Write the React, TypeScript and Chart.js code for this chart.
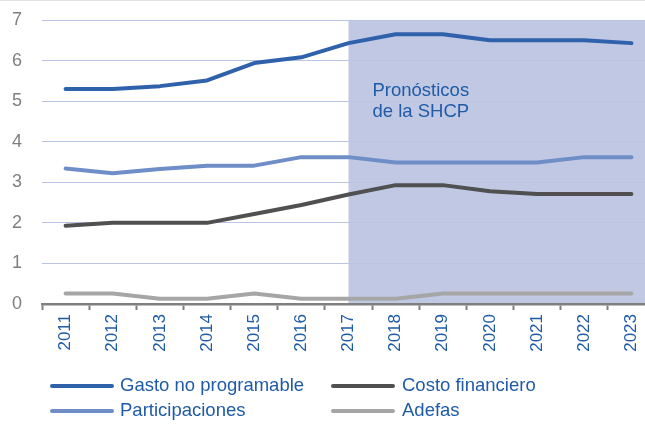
import React, { useEffect, useRef } from "react";
import { Chart, registerables } from "chart.js";

Chart.register(...registerables);

const years = ["2011", "2012", "2013", "2014", "2015", "2016", "2017", "2018", "2019", "2020", "2021", "2022", "2023"];
const gastoNoProgramable = [5.3, 5.3, 5.37, 5.51, 5.94, 6.08, 6.43, 6.65, 6.65, 6.5, 6.5, 6.5, 6.43];
const participaciones = [3.34, 3.22, 3.33, 3.41, 3.41, 3.62, 3.62, 3.49, 3.49, 3.49, 3.49, 3.62, 3.62];
const costoFinanciero = [1.93, 2.0, 2.0, 2.0, 2.22, 2.44, 2.7, 2.93, 2.93, 2.78, 2.71, 2.71, 2.71];
const adefas = [0.26, 0.26, 0.13, 0.13, 0.26, 0.13, 0.13, 0.13, 0.26, 0.26, 0.26, 0.26, 0.26];
const yMin = 0;
const yMax = 7;
const forecastStart = "2017";
const annotationLines = ["Pronósticos", "de la SHCP"];

const seriesNames = ["Gasto no programable", "Participaciones", "Costo financiero", "Adefas"];
const seriesColors = ["#2F62AB", "#6F8DC6", "#505050", "#A6A6A6"];

const blueText = "#1F5BA6";
const font = "Arial, 'Liberation Sans', sans-serif";

export default function App() {
  const ref = useRef<HTMLCanvasElement | null>(null);

  useEffect(() => {
    if (!ref.current) return;
    const overlay = {
      id: "overlay",
      beforeDraw(chart: any) {
        const { ctx, chartArea } = chart;
        const xs = chart.scales.x;
        const x0 = xs.getPixelForValue(years.indexOf(forecastStart));
        ctx.save();
        ctx.fillStyle = "#C0C8E3";
        ctx.fillRect(x0, chartArea.top, chartArea.right - x0, chartArea.bottom - chartArea.top);
        ctx.restore();
      },
      afterDatasetsDraw(chart: any) {
        const { ctx } = chart;
        const xs = chart.scales.x;
        const ys = chart.scales.y;
        const x0 = xs.getPixelForValue(years.indexOf(forecastStart));
        ctx.save();
        ctx.fillStyle = blueText;
        ctx.font = `18.5px ${font}`;
        ctx.textAlign = "left";
        ctx.textBaseline = "middle";
        const yTop = ys.getPixelForValue(5.3) + 2;
        annotationLines.forEach((t, i) => ctx.fillText(t, x0 + 24, yTop + i * 21));
        ctx.restore();
      },
      afterDraw(chart: any) {
        const { ctx } = chart;
        ctx.save();
        ctx.fillStyle = "#E2E2E2";
        ctx.fillRect(0, 0, chart.width, 1);
        const pos = [
          { sx: 52, tx: 120, y: 386 },
          { sx: 52, tx: 120, y: 411 },
          { sx: 333, tx: 402, y: 386 },
          { sx: 333, tx: 402, y: 411 },
        ];
        ctx.font = `18.5px ${font}`;
        ctx.textBaseline = "middle";
        ctx.textAlign = "left";
        seriesNames.forEach((name, i) => {
          const p = pos[i];
          ctx.strokeStyle = seriesColors[i];
          ctx.lineWidth = 4;
          ctx.lineCap = "round";
          ctx.beginPath();
          ctx.moveTo(p.sx, p.y);
          ctx.lineTo(p.sx + 60, p.y);
          ctx.stroke();
          ctx.fillStyle = blueText;
          ctx.fillText(name, p.tx, p.y);
        });
        ctx.restore();
      },
    };

    const seriesData = [gastoNoProgramable, participaciones, costoFinanciero, adefas];
    const chart = new Chart(ref.current, {
      type: "line",
      data: {
        labels: years,
        datasets: seriesNames.map((name, i) => ({
          label: name,
          data: seriesData[i],
          borderColor: seriesColors[i],
          backgroundColor: seriesColors[i],
          borderWidth: 4,
          pointRadius: 0,
          tension: 0,
          borderCapStyle: "round" as const,
          borderJoinStyle: "round" as const,
        })),
      },
      options: {
        responsive: false,
        animation: false,
        devicePixelRatio: 1,
        layout: { padding: { top: 20, right: 1, left: 0, bottom: 0 } },
        plugins: { legend: { display: false }, tooltip: { enabled: false } },
        scales: {
          x: {
            type: "category",
            offset: true,
            grid: {
              offset: true,
              drawOnChartArea: false,
              drawTicks: true,
              tickLength: 6,
              tickColor: "#7F7F7F",
              tickWidth: 2,
            },
            border: { display: true, color: "#7F7F7F", width: 2.5 },
            ticks: {
              color: blueText,
              font: { size: 17, family: font },
              minRotation: 90,
              maxRotation: 90,
              padding: 4,
              autoSkip: false,
            },
            afterFit(scale: any) {
              scale.height = 128;
              scale.paddingLeft = 0;
              scale.paddingRight = 0;
              scale.paddingTop = 0;
              scale.paddingBottom = 0;
            },
          },
          y: {
            min: yMin,
            max: yMax,
            grid: { color: "#B9C4E3", lineWidth: 1, drawTicks: false },
            border: { display: false },
            ticks: {
              stepSize: 1,
              color: "#7F7F7F",
              font: { size: 18, family: font },
              padding: 20,
            },
            afterFit(scale: any) {
              scale.width = 42;
              scale.paddingTop = 0;
              scale.paddingBottom = 0;
              scale.paddingLeft = 0;
              scale.paddingRight = 0;
            },
          },
        },
      },
      plugins: [overlay],
    });
    return () => chart.destroy();
  }, []);

  return (
    <div style={{ position: "fixed", left: 0, top: 0, width: 645, height: 432, background: "#fff", overflow: "hidden" }}>
      <canvas ref={ref} width={656} height={432} style={{ display: "block" }} />
    </div>
  );
}
